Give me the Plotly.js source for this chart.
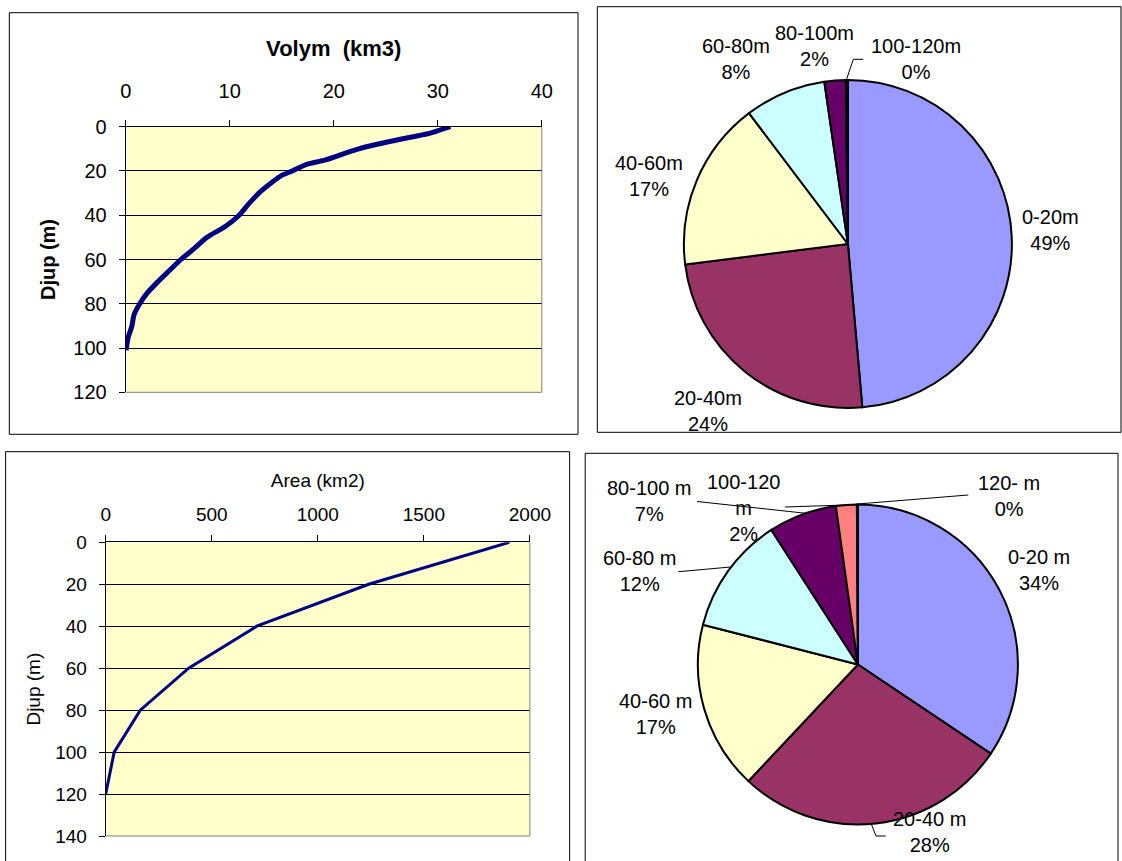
<!DOCTYPE html>
<html><head><meta charset="utf-8">
<script src="https://cdn.plot.ly/plotly-3.0.1.min.js"></script>
<style>html,body{margin:0;padding:0;background:#fff;} #chart{width:1122px;height:861px;}</style>
</head><body><div id="chart"></div>
<script>
// ---- Data ----
// Volume (km3) below each depth (m)
const volDepth = [0, 2, 3, 5, 10, 15, 17, 20, 22, 25, 30, 35, 40, 45, 50, 55, 60, 65, 70, 75, 80, 85, 90, 95, 100, 101];
const volKm3   = [31.2, 29.9, 29.2, 27.1, 22.4, 19.2, 17.4, 16.0, 15.0, 14.1, 12.8, 11.8, 10.9, 9.6, 7.8, 6.6, 5.3, 4.2, 3.1, 2.1, 1.35, 0.8, 0.6, 0.25, 0.07, 0.05];
// Area (km2) at each depth (m)
const areaDepth = [0, 20, 40, 60, 80, 100, 120];
const areaKm2   = [1903, 1240, 712, 391, 163, 40, 0];
// Volume share by depth interval
const volPieLabels = ['0-20m', '20-40m', '40-60m', '60-80m', '80-100m', '100-120m'];
const volPieValues = [48.6, 24.4, 16.7, 8.0, 2.1, 0.2];
// Area share by depth interval
const areaPieLabels = ['0-20 m', '20-40 m', '40-60 m', '60-80 m', '80-100 m', '100-120 m', '120- m'];
const areaPieValues = [34.4, 27.6, 17.0, 11.9, 6.9, 2.1, 0.1];
// Tick values
const volTicksX = [0, 10, 20, 30, 40];
const volTicksY = [0, 20, 40, 60, 80, 100, 120];
const areaTicksX = [0, 500, 1000, 1500, 2000];
const areaTicksY = [0, 20, 40, 60, 80, 100, 120, 140];

// ---- Layout helpers (pixel -> paper) ----
const W = 1122, H = 861;
const px = x => x / W;
const py = y => 1 - y / H;
const sliceColors = ['#9999FF', '#993366', '#FFFFCC', '#CCFFFF', '#660066', '#FF8080', '#0066CC'];
const FONT = 'Liberation Sans, Arial, sans-serif';

const traces = [
  {type: 'scatter', mode: 'lines', x: volKm3, y: volDepth, xaxis: 'x', yaxis: 'y',
   line: {color: '#000080', width: 5, shape: 'spline', smoothing: 0.8}, hoverinfo: 'skip', showlegend: false},
  {type: 'scatter', mode: 'lines', x: areaKm2, y: areaDepth, xaxis: 'x2', yaxis: 'y2',
   line: {color: '#000080', width: 3}, hoverinfo: 'skip', showlegend: false},
  {type: 'pie', labels: volPieLabels, values: volPieValues, sort: false, direction: 'clockwise', rotation: 0,
   textinfo: 'none', hoverinfo: 'skip', showlegend: false,
   marker: {colors: sliceColors.slice(0, volPieLabels.length), line: {color: '#000', width: 2}},
   domain: {x: [px(683.9), px(1011.9)], y: [py(408), py(80)]}},
  {type: 'pie', labels: areaPieLabels, values: areaPieValues, sort: false, direction: 'clockwise', rotation: 0,
   textinfo: 'none', hoverinfo: 'skip', showlegend: false,
   marker: {colors: sliceColors.slice(0, areaPieLabels.length), line: {color: '#000', width: 2}},
   domain: {x: [px(697.9), px(1017.9)], y: [py(824.5), py(504.5)]}}
];

const axBase = {ticks: 'outside', ticklen: 6, tickcolor: '#000', tickwidth: 1, showline: true,
  linecolor: '#000', linewidth: 1, zeroline: false, tickfont: {family: FONT, size: 20, color: '#000'},
  tickmode: 'array', fixedrange: true};

const layout = {
  width: W, height: H, margin: {l: 0, r: 0, t: 0, b: 0}, paper_bgcolor: '#fff',
  plot_bgcolor: '#FFFFCC', font: {family: FONT, color: '#000'}, showlegend: false,
  xaxis: Object.assign({}, axBase, {domain: [px(125.7), px(541.8)], anchor: 'y', side: 'top', range: [0, 40],
    tickvals: volTicksX, showgrid: false, ticklabelstandoff: 14,
    title: {text: '<b>Volym  (km3)</b>', font: {family: FONT, size: 22}, standoff: 17}}),
  yaxis: Object.assign({}, axBase, {domain: [py(392.3), py(126.7)], anchor: 'x', range: [120, 0],
    tickvals: volTicksY, showgrid: true, gridcolor: '#000', gridwidth: 1, ticklabelstandoff: 8,
    title: {text: '<b>Djup (m)</b>', font: {family: FONT, size: 20}, standoff: 12}}),
  xaxis2: Object.assign({}, axBase, {domain: [px(105.7), px(529.9)], anchor: 'y2', side: 'top', range: [0, 2000],
    tickvals: areaTicksX, tickfont: {family: FONT, size: 19, color: '#000'}, showgrid: false, ticklabelstandoff: 7,
    title: {text: 'Area (km2)', font: {family: FONT, size: 19}, standoff: 11}}),
  yaxis2: Object.assign({}, axBase, {domain: [py(836), py(542.3)], anchor: 'x2', range: [140, 0],
    tickvals: areaTicksY, tickfont: {family: FONT, size: 19, color: '#000'}, showgrid: true, gridcolor: '#000',
    gridwidth: 1, ticklabelstandoff: 8,
    title: {text: 'Djup (m)', font: {family: FONT, size: 19}, standoff: 9}}),
  shapes: [],
  annotations: []
};

// panel borders
[[9.3, 12.7, 578, 434.3], [597.3, 6.7, 1121, 432.3], [5.6, 451.7, 569.6, 880], [585.2, 453.3, 1118, 880]]
  .forEach(([x0, y0, x1, y1]) => layout.shapes.push({type: 'rect', xref: 'paper', yref: 'paper',
    x0: px(x0), x1: px(x1), y0: py(y0), y1: py(y1), line: {color: '#000', width: 1}, layer: 'below'}));

// gray right/bottom plot-area edges
function grayEdges(xa, ya) {
  layout.shapes.push({type: 'line', xref: xa + ' domain', yref: ya + ' domain', x0: 1, x1: 1, y0: 0, y1: 1,
    line: {color: '#808080', width: 1}});
  layout.shapes.push({type: 'line', xref: xa + ' domain', yref: ya + ' domain', x0: 0, x1: 1, y0: 0, y1: 0,
    line: {color: '#808080', width: 1}});
}
grayEdges('x', 'y');
grayEdges('x2', 'y2');

// pie labels (text built from the data)
function pctText(values) {
  const tot = values.reduce((a, b) => a + b, 0);
  return values.map(v => Math.round(v / tot * 100) + '%');
}
const volPiePos = [[1050, 230.4], [708, 411.5], [648.5, 175.8], [736.2, 59.5], [814.7, 45.8], [915.5, 58.7]];
const areaPiePos = [[1039.4, 570], [929, 832], [655.4, 713.7], [639.5, 570.8], [649, 500.9], [743, 507.5, true], [1009.3, 495.5]];
function addLabels(labels, values, pos) {
  const pct = pctText(values);
  labels.forEach((lab, i) => {
    const p = pos[i];
    const txt = (p[2] ? lab.replace(' ', '<br>') : lab) + '<br>' + pct[i];
    layout.annotations.push({xref: 'paper', yref: 'paper', x: px(p[0]), y: py(p[1]), xanchor: 'center',
      yanchor: 'middle', showarrow: false, text: txt, font: {family: FONT, size: 20, color: '#000'}});
  });
}
addLabels(volPieLabels, volPieValues, volPiePos);
addLabels(areaPieLabels, areaPieValues, areaPiePos);

// leader lines
function leader(pts) {
  const d = pts.map((p, i) => (i ? 'L' : 'M') + px(p[0]).toFixed(5) + ',' + py(p[1]).toFixed(5)).join(' ');
  layout.shapes.push({type: 'path', xref: 'paper', yref: 'paper', path: d, line: {color: '#000', width: 1}});
}
leader([[863.3, 59.3], [853.3, 59.3], [846, 81]]);
leader([[697, 501.5], [805, 513.2]]);
leader([[785, 507], [845.5, 505]]);
leader([[968.3, 495], [857.5, 504]]);
leader([[678.3, 571.7], [730.5, 567]]);
leader([[871, 823.3], [876, 836], [885.7, 836]]);

Plotly.newPlot('chart', traces, layout, {displayModeBar: false, staticPlot: true});
</script>
</body></html>
